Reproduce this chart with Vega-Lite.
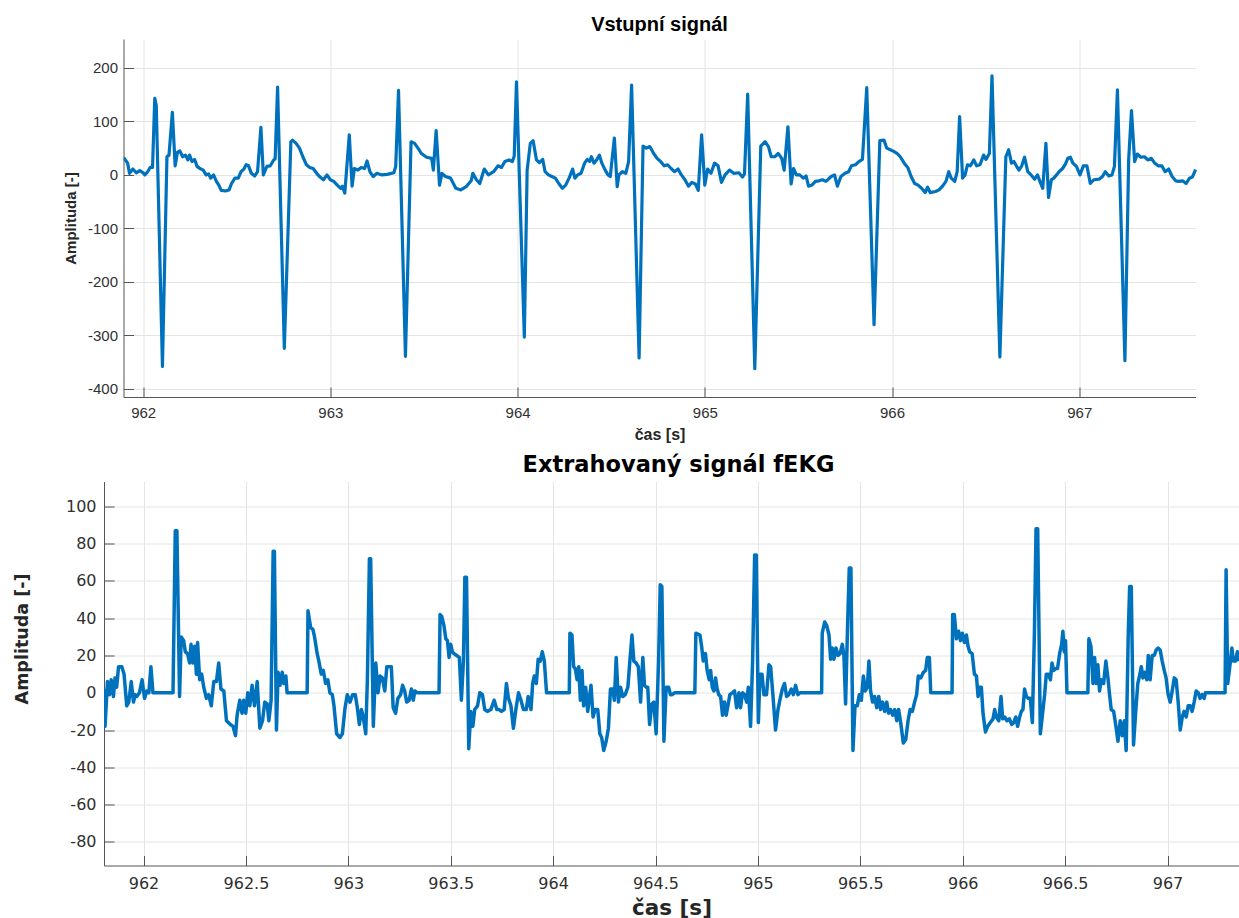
{
  "$schema": "https://vega.github.io/schema/vega-lite/v6.json",
  "background": "white",
  "padding": {"left": 13, "top": 15, "right": 0, "bottom": 0},
  "center": true,
  "spacing": 11.5,
  "config": {
    "view": {"stroke": null},
    "axis": {"domainWidth": 1, "gridWidth": 1, "tickWidth": 1}
  },
  "datasets": {
    "vstup": [
      {"t":961.895,"v":31},{"t":961.899,"v":31},{"t":961.917,"v":22},{"t":961.927,"v":3},{"t":961.945,"v":11},{"t":961.963,"v":4},{"t":961.982,"v":8},{"t":962.000,"v":4},{"t":962.009,"v":0},{"t":962.024,"v":6},{"t":962.037,"v":14},{"t":962.050,"v":14},{"t":962.062,"v":143},{"t":962.070,"v":130},{"t":962.103,"v":-358},{"t":962.127,"v":34},{"t":962.138,"v":37},{"t":962.156,"v":117},{"t":962.171,"v":17},{"t":962.183,"v":42},{"t":962.196,"v":45},{"t":962.211,"v":34},{"t":962.226,"v":37},{"t":962.239,"v":28},{"t":962.248,"v":37},{"t":962.261,"v":25},{"t":962.275,"v":29},{"t":962.288,"v":16},{"t":962.303,"v":12},{"t":962.321,"v":9},{"t":962.336,"v":0},{"t":962.349,"v":2},{"t":962.361,"v":-6},{"t":962.376,"v":0},{"t":962.391,"v":-12},{"t":962.404,"v":-19},{"t":962.417,"v":-29},{"t":962.440,"v":-30},{"t":962.459,"v":-28},{"t":962.472,"v":-16},{"t":962.490,"v":-6},{"t":962.508,"v":-6},{"t":962.523,"v":6},{"t":962.538,"v":11},{"t":962.550,"v":19},{"t":962.563,"v":17},{"t":962.578,"v":3},{"t":962.596,"v":-2},{"t":962.611,"v":6},{"t":962.629,"v":89},{"t":962.642,"v":0},{"t":962.661,"v":16},{"t":962.679,"v":17},{"t":962.697,"v":28},{"t":962.705,"v":30},{"t":962.718,"v":164},{"t":962.754,"v":-324},{"t":962.789,"v":62},{"t":962.798,"v":65},{"t":962.817,"v":59},{"t":962.835,"v":50},{"t":962.853,"v":34},{"t":962.872,"v":19},{"t":962.890,"v":14},{"t":962.908,"v":12},{"t":962.927,"v":3},{"t":962.945,"v":-4},{"t":962.963,"v":-9},{"t":962.982,"v":0},{"t":963.000,"v":-9},{"t":963.018,"v":-12},{"t":963.037,"v":-19},{"t":963.055,"v":-25},{"t":963.064,"v":-21},{"t":963.077,"v":-34},{"t":963.101,"v":75},{"t":963.116,"v":-21},{"t":963.128,"v":12},{"t":963.147,"v":9},{"t":963.165,"v":14},{"t":963.183,"v":12},{"t":963.196,"v":26},{"t":963.211,"v":6},{"t":963.229,"v":-3},{"t":963.248,"v":3},{"t":963.275,"v":0},{"t":963.303,"v":1},{"t":963.339,"v":4},{"t":963.349,"v":16},{"t":963.364,"v":158},{"t":963.401,"v":-339},{"t":963.431,"v":62},{"t":963.450,"v":59},{"t":963.468,"v":50},{"t":963.486,"v":40},{"t":963.514,"v":33},{"t":963.541,"v":31},{"t":963.550,"v":9},{"t":963.565,"v":83},{"t":963.583,"v":-19},{"t":963.596,"v":3},{"t":963.615,"v":-3},{"t":963.642,"v":-6},{"t":963.670,"v":-25},{"t":963.697,"v":-28},{"t":963.725,"v":-22},{"t":963.752,"v":-11},{"t":963.761,"v":3},{"t":963.780,"v":-9},{"t":963.798,"v":-16},{"t":963.822,"v":11},{"t":963.844,"v":0},{"t":963.872,"v":6},{"t":963.895,"v":17},{"t":963.914,"v":14},{"t":963.932,"v":25},{"t":963.954,"v":28},{"t":963.972,"v":25},{"t":963.982,"v":35},{"t":963.994,"v":174},{"t":964.036,"v":-303},{"t":964.051,"v":9},{"t":964.068,"v":59},{"t":964.083,"v":64},{"t":964.101,"v":28},{"t":964.116,"v":23},{"t":964.134,"v":29},{"t":964.147,"v":6},{"t":964.165,"v":0},{"t":964.183,"v":-3},{"t":964.202,"v":-6},{"t":964.220,"v":-16},{"t":964.239,"v":-25},{"t":964.257,"v":-19},{"t":964.275,"v":-6},{"t":964.294,"v":11},{"t":964.306,"v":-6},{"t":964.321,"v":0},{"t":964.339,"v":3},{"t":964.358,"v":22},{"t":964.372,"v":29},{"t":964.385,"v":25},{"t":964.394,"v":34},{"t":964.408,"v":22},{"t":964.422,"v":28},{"t":964.437,"v":37},{"t":964.450,"v":22},{"t":964.468,"v":9},{"t":964.483,"v":0},{"t":964.495,"v":-3},{"t":964.517,"v":69},{"t":964.532,"v":-22},{"t":964.541,"v":0},{"t":964.560,"v":6},{"t":964.578,"v":3},{"t":964.593,"v":25},{"t":964.609,"v":168},{"t":964.649,"v":-342},{"t":964.670,"v":54},{"t":964.688,"v":50},{"t":964.706,"v":53},{"t":964.727,"v":40},{"t":964.745,"v":31},{"t":964.764,"v":25},{"t":964.783,"v":17},{"t":964.801,"v":19},{"t":964.820,"v":12},{"t":964.838,"v":6},{"t":964.857,"v":11},{"t":964.875,"v":0},{"t":964.894,"v":-9},{"t":964.913,"v":-21},{"t":964.931,"v":-14},{"t":964.950,"v":-17},{"t":964.965,"v":-29},{"t":964.983,"v":75},{"t":965.000,"v":-19},{"t":965.015,"v":11},{"t":965.033,"v":3},{"t":965.052,"v":22},{"t":965.071,"v":17},{"t":965.089,"v":-14},{"t":965.108,"v":0},{"t":965.132,"v":9},{"t":965.154,"v":3},{"t":965.182,"v":4},{"t":965.201,"v":-4},{"t":965.212,"v":2},{"t":965.229,"v":151},{"t":965.267,"v":-362},{"t":965.299,"v":54},{"t":965.322,"v":62},{"t":965.340,"v":53},{"t":965.355,"v":34},{"t":965.374,"v":34},{"t":965.392,"v":40},{"t":965.411,"v":31},{"t":965.424,"v":9},{"t":965.444,"v":90},{"t":965.461,"v":-17},{"t":965.474,"v":12},{"t":965.489,"v":0},{"t":965.507,"v":0},{"t":965.526,"v":-6},{"t":965.541,"v":-2},{"t":965.554,"v":-21},{"t":965.572,"v":-19},{"t":965.591,"v":-12},{"t":965.610,"v":-11},{"t":965.628,"v":-9},{"t":965.647,"v":-12},{"t":965.660,"v":-8},{"t":965.675,"v":-3},{"t":965.693,"v":0},{"t":965.708,"v":-21},{"t":965.727,"v":-3},{"t":965.749,"v":3},{"t":965.768,"v":6},{"t":965.783,"v":17},{"t":965.805,"v":19},{"t":965.823,"v":25},{"t":965.842,"v":29},{"t":965.865,"v":163},{"t":965.904,"v":-280},{"t":965.935,"v":64},{"t":965.957,"v":65},{"t":965.972,"v":50},{"t":965.991,"v":47},{"t":966.009,"v":44},{"t":966.028,"v":40},{"t":966.046,"v":33},{"t":966.065,"v":22},{"t":966.084,"v":14},{"t":966.102,"v":-3},{"t":966.121,"v":-16},{"t":966.139,"v":-19},{"t":966.158,"v":-25},{"t":966.177,"v":-33},{"t":966.190,"v":-23},{"t":966.204,"v":-33},{"t":966.232,"v":-31},{"t":966.251,"v":-28},{"t":966.270,"v":-21},{"t":966.288,"v":-12},{"t":966.303,"v":6},{"t":966.316,"v":-6},{"t":966.335,"v":-12},{"t":966.348,"v":6},{"t":966.361,"v":109},{"t":966.377,"v":-6},{"t":966.390,"v":0},{"t":966.403,"v":19},{"t":966.418,"v":17},{"t":966.437,"v":28},{"t":966.452,"v":17},{"t":966.470,"v":19},{"t":966.489,"v":37},{"t":966.502,"v":29},{"t":966.520,"v":40},{"t":966.534,"v":185},{"t":966.576,"v":-340},{"t":966.608,"v":34},{"t":966.623,"v":47},{"t":966.638,"v":22},{"t":966.651,"v":25},{"t":966.664,"v":17},{"t":966.678,"v":9},{"t":966.693,"v":17},{"t":966.708,"v":33},{"t":966.725,"v":6},{"t":966.743,"v":0},{"t":966.762,"v":-8},{"t":966.777,"v":0},{"t":966.790,"v":-12},{"t":966.805,"v":-25},{"t":966.822,"v":59},{"t":966.836,"v":-42},{"t":966.851,"v":-9},{"t":966.864,"v":-6},{"t":966.879,"v":0},{"t":966.892,"v":6},{"t":966.911,"v":12},{"t":966.926,"v":20},{"t":966.939,"v":31},{"t":966.953,"v":33},{"t":966.966,"v":22},{"t":966.985,"v":16},{"t":967.004,"v":0},{"t":967.022,"v":17},{"t":967.041,"v":17},{"t":967.059,"v":-16},{"t":967.078,"v":-9},{"t":967.106,"v":-8},{"t":967.124,"v":-3},{"t":967.139,"v":6},{"t":967.158,"v":-2},{"t":967.175,"v":0},{"t":967.188,"v":16},{"t":967.204,"v":159},{"t":967.244,"v":-347},{"t":967.264,"v":28},{"t":967.279,"v":120},{"t":967.296,"v":25},{"t":967.310,"v":39},{"t":967.329,"v":33},{"t":967.348,"v":34},{"t":967.366,"v":28},{"t":967.385,"v":31},{"t":967.403,"v":22},{"t":967.422,"v":17},{"t":967.441,"v":17},{"t":967.459,"v":6},{"t":967.478,"v":11},{"t":967.496,"v":-3},{"t":967.515,"v":-11},{"t":967.533,"v":-12},{"t":967.552,"v":-11},{"t":967.571,"v":-16},{"t":967.589,"v":-6},{"t":967.604,"v":-4},{"t":967.617,"v":6},{"t":967.621,"v":10}
    ],
    "fekg": [
      {"t":961.807,"v":2},{"t":961.812,"v":-18},{"t":961.824,"v":6},{"t":961.834,"v":-1},{"t":961.842,"v":7},{"t":961.853,"v":-2},{"t":961.861,"v":8},{"t":961.869,"v":3},{"t":961.878,"v":14},{"t":961.894,"v":14},{"t":961.905,"v":10},{"t":961.918,"v":-7},{"t":961.928,"v":-5},{"t":961.940,"v":6},{"t":961.951,"v":-5},{"t":961.959,"v":-1},{"t":961.967,"v":-2},{"t":961.980,"v":0},{"t":961.993,"v":7},{"t":962.005,"v":-3},{"t":962.016,"v":1},{"t":962.026,"v":0},{"t":962.036,"v":14},{"t":962.046,"v":0},{"t":962.144,"v":0},{"t":962.155,"v":87},{"t":962.163,"v":87},{"t":962.176,"v":-2},{"t":962.184,"v":30},{"t":962.196,"v":28},{"t":962.204,"v":22},{"t":962.215,"v":21},{"t":962.225,"v":16},{"t":962.232,"v":26},{"t":962.241,"v":16},{"t":962.250,"v":25},{"t":962.258,"v":10},{"t":962.264,"v":27},{"t":962.274,"v":7},{"t":962.284,"v":10},{"t":962.294,"v":3},{"t":962.307,"v":-3},{"t":962.318,"v":-1},{"t":962.331,"v":-7},{"t":962.343,"v":6},{"t":962.356,"v":6},{"t":962.367,"v":16},{"t":962.378,"v":2},{"t":962.392,"v":1},{"t":962.405,"v":-15},{"t":962.424,"v":-17},{"t":962.437,"v":-18},{"t":962.449,"v":-23},{"t":962.457,"v":-12},{"t":962.470,"v":-4},{"t":962.481,"v":-11},{"t":962.489,"v":-4},{"t":962.499,"v":-11},{"t":962.509,"v":0},{"t":962.519,"v":-7},{"t":962.530,"v":4},{"t":962.542,"v":-7},{"t":962.555,"v":6},{"t":962.568,"v":-19},{"t":962.581,"v":-15},{"t":962.592,"v":-5},{"t":962.604,"v":-6},{"t":962.612,"v":-15},{"t":962.623,"v":-4},{"t":962.633,"v":76},{"t":962.639,"v":76},{"t":962.649,"v":-20},{"t":962.657,"v":11},{"t":962.666,"v":4},{"t":962.677,"v":11},{"t":962.685,"v":5},{"t":962.695,"v":9},{"t":962.701,"v":0},{"t":962.799,"v":0},{"t":962.803,"v":44},{"t":962.816,"v":35},{"t":962.827,"v":34},{"t":962.835,"v":30},{"t":962.848,"v":21},{"t":962.856,"v":17},{"t":962.868,"v":10},{"t":962.878,"v":12},{"t":962.889,"v":5},{"t":962.900,"v":7},{"t":962.910,"v":0},{"t":962.922,"v":-1},{"t":962.930,"v":-7},{"t":962.943,"v":-22},{"t":962.959,"v":-24},{"t":962.971,"v":-22},{"t":962.984,"v":-8},{"t":962.995,"v":-1},{"t":963.008,"v":-5},{"t":963.021,"v":-1},{"t":963.034,"v":-1},{"t":963.044,"v":-8},{"t":963.054,"v":-17},{"t":963.064,"v":-9},{"t":963.073,"v":-13},{"t":963.085,"v":-22},{"t":963.093,"v":7},{"t":963.103,"v":72},{"t":963.109,"v":72},{"t":963.122,"v":-18},{"t":963.134,"v":16},{"t":963.145,"v":0},{"t":963.155,"v":9},{"t":963.166,"v":8},{"t":963.178,"v":1},{"t":963.188,"v":14},{"t":963.198,"v":14},{"t":963.210,"v":14},{"t":963.219,"v":-8},{"t":963.231,"v":-11},{"t":963.242,"v":-3},{"t":963.255,"v":-1},{"t":963.265,"v":4},{"t":963.275,"v":1},{"t":963.285,"v":-5},{"t":963.297,"v":-4},{"t":963.308,"v":2},{"t":963.317,"v":-4},{"t":963.325,"v":1},{"t":963.337,"v":0},{"t":963.443,"v":0},{"t":963.448,"v":42},{"t":963.456,"v":41},{"t":963.467,"v":36},{"t":963.476,"v":29},{"t":963.484,"v":28},{"t":963.492,"v":19},{"t":963.500,"v":26},{"t":963.508,"v":22},{"t":963.516,"v":21},{"t":963.529,"v":20},{"t":963.542,"v":19},{"t":963.552,"v":-4},{"t":963.562,"v":17},{"t":963.569,"v":62},{"t":963.577,"v":62},{"t":963.588,"v":-30},{"t":963.598,"v":-10},{"t":963.608,"v":-18},{"t":963.617,"v":-9},{"t":963.631,"v":-7},{"t":963.642,"v":0},{"t":963.655,"v":-1},{"t":963.666,"v":-9},{"t":963.679,"v":-10},{"t":963.696,"v":-9},{"t":963.712,"v":-4},{"t":963.725,"v":-9},{"t":963.737,"v":-9},{"t":963.748,"v":-10},{"t":963.761,"v":-9},{"t":963.772,"v":5},{"t":963.782,"v":-3},{"t":963.794,"v":-7},{"t":963.806,"v":-19},{"t":963.818,"v":-9},{"t":963.831,"v":0},{"t":963.843,"v":-4},{"t":963.855,"v":-9},{"t":963.869,"v":-9},{"t":963.878,"v":-2},{"t":963.892,"v":-9},{"t":963.900,"v":5},{"t":963.908,"v":9},{"t":963.918,"v":5},{"t":963.927,"v":18},{"t":963.937,"v":17},{"t":963.947,"v":22},{"t":963.957,"v":17},{"t":963.968,"v":0},{"t":964.079,"v":0},{"t":964.082,"v":32},{"t":964.092,"v":31},{"t":964.100,"v":14},{"t":964.108,"v":13},{"t":964.117,"v":7},{"t":964.125,"v":14},{"t":964.133,"v":-4},{"t":964.141,"v":12},{"t":964.149,"v":-7},{"t":964.159,"v":3},{"t":964.169,"v":-10},{"t":964.179,"v":-1},{"t":964.185,"v":4},{"t":964.195,"v":-13},{"t":964.205,"v":-9},{"t":964.218,"v":-9},{"t":964.228,"v":-22},{"t":964.237,"v":-24},{"t":964.247,"v":-31},{"t":964.259,"v":-26},{"t":964.270,"v":-19},{"t":964.280,"v":2},{"t":964.291,"v":2},{"t":964.299,"v":-4},{"t":964.308,"v":19},{"t":964.319,"v":-5},{"t":964.329,"v":3},{"t":964.340,"v":-2},{"t":964.352,"v":-1},{"t":964.365,"v":3},{"t":964.374,"v":16},{"t":964.385,"v":31},{"t":964.394,"v":17},{"t":964.405,"v":16},{"t":964.416,"v":14},{"t":964.427,"v":-5},{"t":964.438,"v":19},{"t":964.446,"v":4},{"t":964.454,"v":3},{"t":964.462,"v":3},{"t":964.471,"v":-17},{"t":964.482,"v":-6},{"t":964.492,"v":-5},{"t":964.503,"v":-22},{"t":964.515,"v":17},{"t":964.523,"v":58},{"t":964.531,"v":57},{"t":964.541,"v":-26},{"t":964.552,"v":3},{"t":964.564,"v":3},{"t":964.573,"v":-1},{"t":964.581,"v":-1},{"t":964.593,"v":0},{"t":964.692,"v":0},{"t":964.697,"v":32},{"t":964.717,"v":31},{"t":964.725,"v":25},{"t":964.733,"v":17},{"t":964.744,"v":21},{"t":964.752,"v":12},{"t":964.762,"v":7},{"t":964.769,"v":12},{"t":964.777,"v":3},{"t":964.785,"v":1},{"t":964.793,"v":8},{"t":964.801,"v":2},{"t":964.809,"v":-1},{"t":964.818,"v":-2},{"t":964.827,"v":-12},{"t":964.837,"v":-5},{"t":964.845,"v":-12},{"t":964.855,"v":-6},{"t":964.863,"v":-1},{"t":964.875,"v":0},{"t":964.886,"v":1},{"t":964.896,"v":-8},{"t":964.907,"v":0},{"t":964.915,"v":-8},{"t":964.925,"v":0},{"t":964.935,"v":-1},{"t":964.945,"v":-5},{"t":964.953,"v":3},{"t":964.964,"v":-18},{"t":964.974,"v":17},{"t":964.984,"v":74},{"t":964.992,"v":74},{"t":965.002,"v":-16},{"t":965.010,"v":10},{"t":965.020,"v":10},{"t":965.029,"v":-1},{"t":965.042,"v":-1},{"t":965.054,"v":15},{"t":965.062,"v":14},{"t":965.073,"v":-1},{"t":965.086,"v":-20},{"t":965.098,"v":-9},{"t":965.107,"v":-4},{"t":965.119,"v":2},{"t":965.130,"v":5},{"t":965.140,"v":-2},{"t":965.151,"v":-1},{"t":965.163,"v":2},{"t":965.173,"v":-1},{"t":965.184,"v":4},{"t":965.195,"v":-1},{"t":965.205,"v":0},{"t":965.311,"v":0},{"t":965.314,"v":32},{"t":965.326,"v":38},{"t":965.336,"v":36},{"t":965.347,"v":31},{"t":965.355,"v":18},{"t":965.363,"v":24},{"t":965.371,"v":18},{"t":965.381,"v":24},{"t":965.391,"v":20},{"t":965.401,"v":21},{"t":965.412,"v":26},{"t":965.420,"v":20},{"t":965.428,"v":-6},{"t":965.438,"v":37},{"t":965.446,"v":67},{"t":965.454,"v":67},{"t":965.464,"v":-31},{"t":965.474,"v":-7},{"t":965.485,"v":-7},{"t":965.495,"v":-1},{"t":965.505,"v":-4},{"t":965.515,"v":9},{"t":965.524,"v":1},{"t":965.534,"v":3},{"t":965.542,"v":17},{"t":965.550,"v":1},{"t":965.560,"v":-5},{"t":965.570,"v":-2},{"t":965.580,"v":-8},{"t":965.590,"v":-2},{"t":965.599,"v":-9},{"t":965.609,"v":-5},{"t":965.619,"v":-10},{"t":965.629,"v":-5},{"t":965.638,"v":-11},{"t":965.648,"v":-9},{"t":965.658,"v":-12},{"t":965.668,"v":-9},{"t":965.678,"v":-15},{"t":965.687,"v":-9},{"t":965.697,"v":-16},{"t":965.710,"v":-27},{"t":965.722,"v":-25},{"t":965.733,"v":-15},{"t":965.743,"v":-9},{"t":965.754,"v":-10},{"t":965.765,"v":-5},{"t":965.775,"v":-1},{"t":965.783,"v":9},{"t":965.795,"v":8},{"t":965.808,"v":11},{"t":965.819,"v":12},{"t":965.827,"v":19},{"t":965.837,"v":19},{"t":965.844,"v":0},{"t":965.948,"v":0},{"t":965.951,"v":42},{"t":965.959,"v":42},{"t":965.969,"v":29},{"t":965.980,"v":33},{"t":965.989,"v":28},{"t":965.998,"v":32},{"t":966.008,"v":27},{"t":966.018,"v":31},{"t":966.026,"v":25},{"t":966.034,"v":22},{"t":966.046,"v":21},{"t":966.057,"v":10},{"t":966.067,"v":9},{"t":966.075,"v":-2},{"t":966.083,"v":3},{"t":966.091,"v":3},{"t":966.099,"v":-11},{"t":966.111,"v":-21},{"t":966.122,"v":-18},{"t":966.135,"v":-16},{"t":966.148,"v":-14},{"t":966.156,"v":-9},{"t":966.164,"v":-13},{"t":966.176,"v":-15},{"t":966.187,"v":-2},{"t":966.195,"v":-14},{"t":966.205,"v":-13},{"t":966.216,"v":-15},{"t":966.228,"v":-14},{"t":966.239,"v":-17},{"t":966.249,"v":-16},{"t":966.259,"v":-13},{"t":966.268,"v":-18},{"t":966.278,"v":-13},{"t":966.286,"v":-10},{"t":966.294,"v":-9},{"t":966.302,"v":2},{"t":966.311,"v":-2},{"t":966.320,"v":-3},{"t":966.330,"v":-3},{"t":966.340,"v":-16},{"t":966.350,"v":32},{"t":966.358,"v":88},{"t":966.366,"v":88},{"t":966.379,"v":-22},{"t":966.390,"v":-11},{"t":966.400,"v":-1},{"t":966.408,"v":10},{"t":966.418,"v":10},{"t":966.428,"v":7},{"t":966.436,"v":16},{"t":966.444,"v":12},{"t":966.454,"v":13},{"t":966.463,"v":13},{"t":966.473,"v":21},{"t":966.483,"v":26},{"t":966.489,"v":33},{"t":966.496,"v":22},{"t":966.502,"v":28},{"t":966.509,"v":0},{"t":966.611,"v":0},{"t":966.616,"v":29},{"t":966.626,"v":25},{"t":966.636,"v":5},{"t":966.644,"v":19},{"t":966.652,"v":5},{"t":966.660,"v":15},{"t":966.668,"v":1},{"t":966.676,"v":7},{"t":966.688,"v":5},{"t":966.699,"v":17},{"t":966.709,"v":8},{"t":966.717,"v":-1},{"t":966.725,"v":-9},{"t":966.737,"v":-10},{"t":966.748,"v":-18},{"t":966.758,"v":-26},{"t":966.769,"v":-15},{"t":966.779,"v":-23},{"t":966.789,"v":-15},{"t":966.798,"v":-31},{"t":966.808,"v":30},{"t":966.815,"v":57},{"t":966.823,"v":57},{"t":966.834,"v":-28},{"t":966.846,"v":-8},{"t":966.855,"v":5},{"t":966.863,"v":9},{"t":966.872,"v":14},{"t":966.880,"v":8},{"t":966.889,"v":11},{"t":966.899,"v":7},{"t":966.906,"v":20},{"t":966.915,"v":7},{"t":966.925,"v":20},{"t":966.935,"v":20},{"t":966.945,"v":23},{"t":966.954,"v":24},{"t":966.964,"v":23},{"t":966.974,"v":17},{"t":966.984,"v":12},{"t":966.993,"v":8},{"t":967.003,"v":-1},{"t":967.013,"v":-5},{"t":967.023,"v":1},{"t":967.033,"v":8},{"t":967.042,"v":7},{"t":967.052,"v":-5},{"t":967.062,"v":-20},{"t":967.072,"v":-13},{"t":967.081,"v":-10},{"t":967.091,"v":-13},{"t":967.101,"v":-7},{"t":967.111,"v":-7},{"t":967.120,"v":-10},{"t":967.130,"v":-5},{"t":967.140,"v":1},{"t":967.150,"v":0},{"t":967.159,"v":-3},{"t":967.169,"v":-1},{"t":967.179,"v":-3},{"t":967.185,"v":0},{"t":967.281,"v":0},{"t":967.286,"v":66},{"t":967.294,"v":5},{"t":967.306,"v":16},{"t":967.314,"v":24},{"t":967.322,"v":17},{"t":967.332,"v":17},{"t":967.341,"v":22},{"t":967.349,"v":17}
    ]
  },
  "vconcat": [
    {
      "title": {"text": "Vstupní signál", "font": "Liberation Sans", "fontSize": 20, "fontWeight": "bold", "color": "#000000", "offset": 4, "dx": -12},
      "width": 1096,
      "height": 358,
      "data": {"name": "vstup"},
      "mark": {"type": "line", "color": "#0072BD", "strokeWidth": 3.2, "clip": true, "strokeJoin": "round"},
      "encoding": {
        "x": {
          "field": "t", "type": "quantitative",
          "scale": {"domain": [961.895, 967.621], "range": [0, 1072], "nice": false, "zero": false},
          "axis": {
            "title": "čas [s]", "values": [962, 963, 964, 965, 966, 967],
            "labelExpr": "'' + datum.value",
            "grid": true, "gridColor": "#e4e4e4",
            "domainColor": "#555555", "tickColor": "#555555", "tickSize": -10,
            "labelFont": "Liberation Sans", "labelFontSize": 15, "labelColor": "#303030", "labelPadding": 18,
            "titleFont": "Liberation Sans", "titleFontSize": 16, "titleFontWeight": "bold", "titleColor": "#262626", "titlePadding": 6, "titleX": 536
          }
        },
        "y": {
          "field": "v", "type": "quantitative",
          "scale": {"domain": [-415, 254], "nice": false, "zero": false},
          "axis": {
            "title": "Amplituda [-]", "values": [-400, -300, -200, -100, 0, 100, 200],
            "labelExpr": "'' + datum.value",
            "grid": true, "gridColor": "#e4e4e4",
            "domainColor": "#555555", "tickColor": "#555555", "tickSize": -10,
            "labelFont": "Liberation Sans", "labelFontSize": 15, "labelColor": "#303030", "labelPadding": 16,
            "titleFont": "Liberation Sans", "titleFontSize": 15, "titleFontWeight": "bold", "titleColor": "#262626", "titlePadding": 9
          }
        }
      }
    },
    {
      "title": {"text": "Extrahovaný signál fEKG", "font": "DejaVu Sans", "fontSize": 22.5, "fontWeight": "bold", "color": "#000000", "offset": 5, "dx": 7},
      "width": 1135,
      "height": 384,
      "data": {"name": "fekg"},
      "mark": {"type": "line", "color": "#0072BD", "strokeWidth": 3.5, "clip": true, "strokeJoin": "round"},
      "encoding": {
        "x": {
          "field": "t", "type": "quantitative",
          "scale": {"domain": [961.807, 967.349], "nice": false, "zero": false},
          "axis": {
            "title": "čas [s]", "values": [962, 962.5, 963, 963.5, 964, 964.5, 965, 965.5, 966, 966.5, 967],
            "labelExpr": "'' + datum.value",
            "grid": true, "gridColor": "#e4e4e4",
            "domainColor": "#555555", "tickColor": "#555555", "tickSize": -10,
            "labelFont": "DejaVu Sans", "labelFontSize": 16, "labelColor": "#303030", "labelPadding": 20,
            "titleFont": "DejaVu Sans", "titleFontSize": 21.5, "titleFontWeight": "bold", "titleColor": "#262626", "titlePadding": 6
          }
        },
        "y": {
          "field": "v", "type": "quantitative",
          "scale": {"domain": [-92.7, 113.4], "nice": false, "zero": false},
          "axis": {
            "title": "Amplituda [-]", "values": [-80, -60, -40, -20, 0, 20, 40, 60, 80, 100],
            "labelExpr": "'' + datum.value",
            "grid": true, "gridColor": "#e4e4e4",
            "domainColor": "#555555", "tickColor": "#555555", "tickSize": -10,
            "labelFont": "DejaVu Sans", "labelFontSize": 16, "labelColor": "#303030", "labelPadding": 18,
            "titleFont": "DejaVu Sans", "titleFontSize": 17.5, "titleFontWeight": "bold", "titleColor": "#262626", "titlePadding": 34, "titleY": 157
          }
        }
      }
    }
  ]
}
